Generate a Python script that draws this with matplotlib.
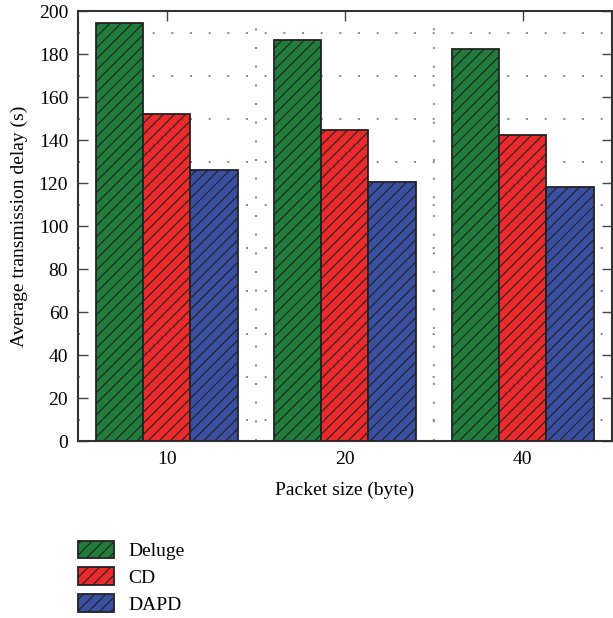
import numpy as np
from matplotlib import pyplot as plt
from matplotlib.ticker import MultipleLocator, FixedLocator

plt.rcParams['font.family'] = ['Liberation Serif', 'DejaVu Serif']
plt.rcParams['hatch.linewidth'] = 0.8

sizes = ["10", "20", "40"]
deluge = [194.4, 186.5, 182.3]
cd = [152.1, 144.7, 142.3]
dapd = [126.0, 120.5, 118.1]

series = [("Deluge", deluge, "#217c3b"),
          ("CD", cd, "#ee2a2b"),
          ("DAPD", dapd, "#3a4f9f")]

fig = plt.figure(figsize=(6.13, 6.18), dpi=100)
ax = fig.add_axes([0.127, 0.286, 0.871, 0.696])

x = np.arange(len(sizes))
w = 0.265
for i, (name, vals, col) in enumerate(series):
    ax.bar(x + (i - 1) * w, vals, w, color=col, edgecolor="#222222",
           linewidth=1.3, hatch="///", label=name, zorder=3)

ax.set_xlim(-0.5, 2.5)
ax.set_ylim(0, 200)
ax.set_xticks(x)
ax.set_xticklabels(sizes)
ax.xaxis.set_minor_locator(FixedLocator([0.5, 1.5]))
ax.yaxis.set_major_locator(MultipleLocator(20))
ax.yaxis.set_minor_locator(FixedLocator(np.arange(10, 200, 20)))
ax.tick_params(which="both", direction="in", top=True, right=True,
               labelsize=14, length=7, width=1, color="#444444", pad=7)
ax.tick_params(which="minor", length=0)
ax.grid(which="minor", linestyle=(0, (1.2, 10)), color="#777777", linewidth=1.2)
for s in ax.spines.values():
    s.set_linewidth(1.5)
    s.set_color("#333333")

ax.set_xlabel("Packet size (byte)", fontsize=14, labelpad=10)
ax.set_ylabel("Average transmission delay (s)", fontsize=14, labelpad=8)

fig.legend(loc="upper left", bbox_to_anchor=(0.127, 0.125), frameon=False,
           fontsize=14, handlelength=1.85, handleheight=1.0, labelspacing=0.38,
           handletextpad=0.75, borderpad=0, borderaxespad=0)

fig.savefig("out.png", dpi=100)
